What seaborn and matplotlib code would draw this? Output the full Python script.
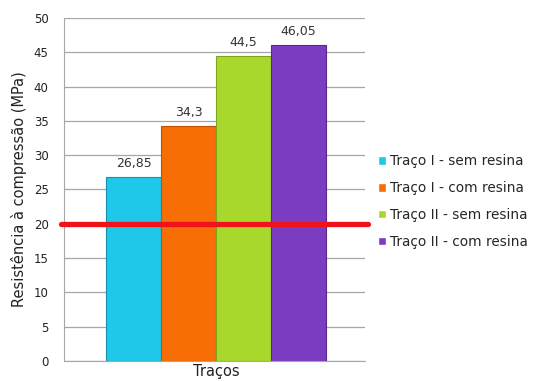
import pandas as pd
import matplotlib.pyplot as plt
import seaborn as sns

# data
series = ["Traço I - sem resina", "Traço I - com resina",
          "Traço II - sem resina", "Traço II - com resina"]
values = [26.85, 34.3, 44.5, 46.05]
group = "Traços"
threshold = 20
colors = ["#1fc8e8", "#f76d06", "#a9d82c", "#7b3cc2"]
edge_colors = ["#1590b0", "#c25004", "#7fa520", "#55288a"]

df = pd.DataFrame({"grupo": [group] * len(series), "serie": series, "valor": values})

sns.set_style("white")
plt.rcParams["font.family"] = ["DejaVu Sans"]

fig = plt.figure(figsize=(5.5, 3.81), dpi=100)
ax = fig.add_axes([64 / 550, 1 - 361 / 381, 301 / 550, 343 / 381])

sns.barplot(data=df, x="grupo", y="valor", hue="serie", palette=colors,
            width=0.8, saturation=1, ax=ax, legend=True, zorder=2)

for patch, ec in zip(ax.patches, edge_colors):
    patch.set_edgecolor(ec)
    patch.set_linewidth(0.8)

for cont in ax.containers:
    ax.bar_label(cont, labels=[f"{v:g}".replace(".", ",") for v in cont.datavalues],
                 padding=5, fontsize=9, color="#333333")

# threshold line
ax.axhline(threshold, xmin=-0.01, xmax=1.01, color="#f0141a", lw=3.8,
           clip_on=False, zorder=3)

ax.set_ylim(0, 50)
ax.set_yticks(range(0, 51, 5))
ax.set_xlim(-0.553, 0.542)
ax.yaxis.grid(True, color="#a6a6a6", lw=0.9)
ax.set_axisbelow(True)
for s in ["top", "right"]:
    ax.spines[s].set_visible(False)
ax.spines["left"].set_color("#a6a6a6")
ax.spines["bottom"].set_color("#a6a6a6")
ax.tick_params(axis="y", length=5, color="#a6a6a6", labelsize=8.5, labelcolor="#222222", pad=6)
ax.tick_params(axis="x", length=0, labelsize=10.5, labelcolor="#222222", pad=2)
ax.set_xlabel("")
ax.set_ylabel("Resistência à compressão (MPa)", fontsize=10.5, color="#222222", labelpad=5)

handles, labels = ax.get_legend_handles_labels()
ax.legend(handles, labels, loc="center left", bbox_to_anchor=(1.025, 0.465),
          frameon=False, fontsize=9.8, handlelength=0.6, handleheight=0.6,
          handletextpad=0.25, labelspacing=0.95, borderaxespad=0)

fig.savefig("out.png", dpi=100)
